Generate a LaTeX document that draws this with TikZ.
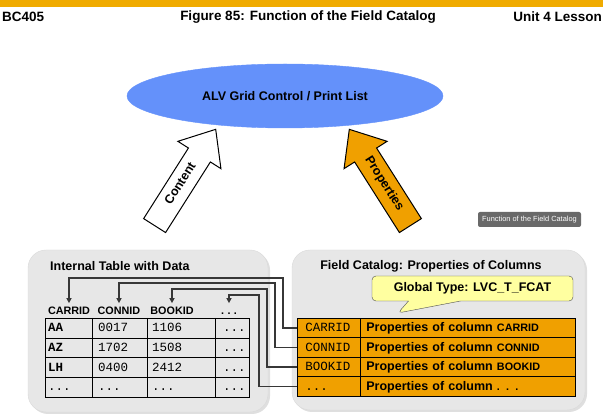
\documentclass[tikz,border=0pt]{standalone}
\usepackage{fontspec}
\setmainfont{Liberation Sans}
\setmonofont{Liberation Mono}
\usetikzlibrary{arrows.meta, shapes.geometric, shapes.arrows, shapes.callouts, shadows}
\definecolor{sapgold}{RGB}{240,171,0}
\definecolor{ellblue}{RGB}{100,145,250}
\definecolor{catorange}{RGB}{240,160,0}
\definecolor{panelgray}{RGB}{231,231,231}
\definecolor{calloutyellow}{RGB}{255,255,160}
\definecolor{linegray}{RGB}{55,55,55}
\definecolor{tipgray}{RGB}{105,105,105}
\newcommand{\tdots}{\texttt{...}}

\tikzset{
  lbl/.style={font=\fontsize{12.5}{14}\selectfont\bfseries, inner sep=0pt},
  hdr/.style={font=\fontsize{10.8}{12}\selectfont\bfseries, inner sep=0pt, outer sep=4pt, text height=7.7pt, text depth=0pt},
  cell/.style={font=\fontsize{12.5}{14}\selectfont\ttfamily, anchor=west, inner sep=0pt, text height=7.4pt, text depth=0pt},
  panel/.style={fill=panelgray, draw=black!15, rounded corners=18pt, drop shadow={opacity=0.25, shadow xshift=2pt, shadow yshift=-2pt}},
  link/.style={draw=linegray, line width=1.4pt, -{Triangle[length=5pt,width=5pt]}},
  fatarrow/.style={single arrow, draw=black, line width=1pt, single arrow head extend=12.5pt, single arrow tip angle=80,
    minimum height=114pt, text height=8.5pt, text depth=2.5pt, inner ysep=7pt, inner xsep=4pt,
    font=\fontsize{12.5}{14}\selectfont\bfseries},
  fcell/.style={draw=black, line width=0.8pt, fill=catorange, anchor=north west, minimum height=19.5pt,
    text height=7.6pt, text depth=0pt, align=left}
}

\begin{document}
\begin{tikzpicture}[x=1pt, y=-1pt, >=Stealth]
\useasboundingbox (0,0) rectangle (603,419);

% Header bar and titles
\fill[sapgold] (0,0) rectangle (603,7);
\node[lbl, font=\fontsize{13.5}{15}\selectfont\bfseries, anchor=west] (bc) at (2,17) {BC405};
\node[lbl, font=\fontsize{13.5}{15}\selectfont\bfseries] (fig) at (308,17) {Figure 85: Function of the Field Catalog};
\node[lbl, font=\fontsize{13.5}{15}\selectfont\bfseries, anchor=east] (unit) at (602,17) {Unit 4 Lesson};

% Output ellipse
\node[ellipse, fill=ellblue, draw=ellblue, minimum width=316pt, minimum height=64pt, lbl] (alv) at (285,96) {ALV Grid Control / Print List};

% Big arrows
\node[fatarrow, fill=white, rotate=57.6] (content) at (181,184) {Content};
\node[fatarrow, fill=catorange, rotate=-57.6, shape border rotate=180] (props) at (384,184) {Properties};

% Tooltip
\node[fill=tipgray, rounded corners=2pt, text=white, font=\fontsize{7.4}{8}\selectfont, minimum width=103pt, minimum height=15pt, inner sep=0pt] (tip) at (529.5,219.5) {Function of the Field Catalog};

% Panels
\fill[panel] (28,250) rectangle (268,412);
\fill[panel] (292,250) rectangle (585,410);
\node[lbl, anchor=west] (itab) at (50,266) {Internal Table with Data};
\node[lbl] (fcat) at (431,266) {Field Catalog: Properties of Columns};

% Internal table
\node[hdr] (h1) at (69,311) {CARRID};
\node[hdr] (h2) at (119,311) {CONNID};
\node[hdr] (h3) at (172,311) {BOOKID};
\node[hdr] (h4) at (229,311) {\tdots};
\draw[line width=0.8pt] (45,318) rectangle (249,397);
\draw[line width=0.6pt] (45,338) -- (249,338) (45,357) -- (249,357) (45,377) -- (249,377);
\draw[line width=0.8pt] (92,318) -- (92,397) (147,318) -- (147,397) (215,318) -- (215,397);
\foreach \a/\b/\c/\d [count=\r] in {\textbf{AA}/0017/1106/\tdots, \textbf{AZ}/1702/1508/\tdots, \textbf{LH}/0400/2412/\tdots, \tdots/\tdots/\tdots/\tdots} {
  \node[cell] (d\r-1) at (48,308.1+19.75*\r) {\a};
  \node[cell] (d\r-2) at (98,308.1+19.75*\r) {\b};
  \node[cell] (d\r-3) at (152,308.1+19.75*\r) {\c};
  \node[cell] (d\r-4) at (223,308.1+19.75*\r) {\d};
}

% Callout with the type
\node[rectangle callout, callout absolute pointer={(398,313)}, callout pointer width=52pt, fill=calloutyellow, draw=black!70,
  rounded corners=4pt, minimum width=201pt, minimum height=25pt, lbl] (gtype) at (472.5,288.5) {Global Type: LVC\_T\_FCAT};

% Field catalog
\foreach \n/\m [count=\r] in {CARRID/CARRID, CONNID/CONNID, BOOKID/BOOKID, \tdots/. . .} {
  \node[fcell, font=\fontsize{12.5}{14}\selectfont\ttfamily, inner xsep=8pt, text width=47pt] (f\r) at (297,298.5+19.5*\r) {\n};
  \node[fcell, font=\fontsize{12.5}{14}\selectfont\bfseries, inner xsep=6pt, text width=203pt] (p\r) at (360,298.5+19.5*\r)
    {Properties of column {\fontsize{10.8}{12}\selectfont\m}};
}

% Links from catalog rows to columns
\coordinate (k1) at (283,278);
\coordinate (k2) at (275,283);
\coordinate (k3) at (267,289);
\coordinate (k4) at (259,295);
\draw[link] (f1.west) -| (k1) -| (h1.north);
\draw[link] (f2.west) -| (k2) -| (h2.north);
\draw[link] (f3.west) -| (k3) -| (h3.north);
\draw[link] (f4.west) -| (k4) -| (h4.north);
\end{tikzpicture}
\end{document}
